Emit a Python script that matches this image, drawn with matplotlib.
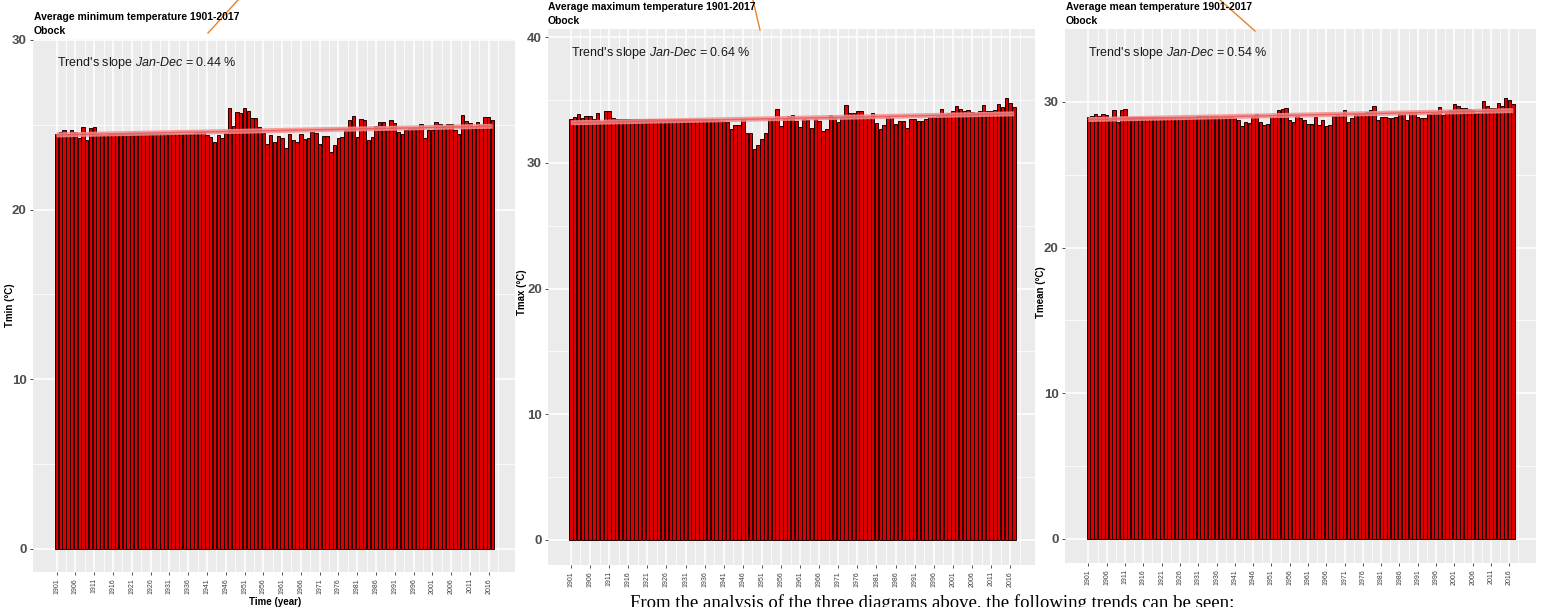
import numpy as np
import matplotlib
matplotlib.use("Agg")
import matplotlib.pyplot as plt
from matplotlib.lines import Line2D

plt.rcParams['font.family'] = ['Liberation Sans', 'DejaVu Sans']
plt.rcParams['mathtext.fontset'] = 'custom'
plt.rcParams['mathtext.it'] = 'Liberation Sans:italic'
plt.rcParams['mathtext.rm'] = 'Liberation Sans'

years = list(range(1901, 2018))
tick_years = list(range(1901, 2017, 5))

tmin = ([24.47, 24.55, 24.67, 24.43, 24.67, 24.59, 24.24, 24.87, 24.08, 24.79,
         24.87, 24.39, 24.39, 24.39]
        + [24.47] * 23
        + [24.55, 24.55, 24.55, 24.39, 24.28, 24.00, 24.39, 24.20, 24.51, 25.97,
           24.91, 25.73, 25.66, 25.97, 25.81, 25.42, 25.42, 24.87, 24.51, 23.85,
           24.39, 24.00, 24.32, 24.24, 23.65, 24.47, 24.08, 24.00, 24.47, 24.16,
           24.20, 24.59, 24.51, 23.85, 24.32, 24.32, 23.37, 23.81, 24.24, 24.28,
           24.67, 25.26, 25.50, 24.28, 25.34, 25.26, 24.12, 24.28, 24.91, 25.18,
           25.18, 24.67, 25.26, 25.10, 24.55, 24.47, 24.67, 24.79, 24.79, 24.79,
           25.02, 24.24, 24.71, 24.71, 25.18, 25.06, 24.91, 25.02, 25.02, 24.71,
           24.43, 25.58, 25.22, 25.10, 24.91, 25.18, 24.99, 25.46, 25.46, 25.26])

tmax = ([33.46, 33.62, 33.88, 33.56, 33.72, 33.72, 33.51, 33.93, 33.25, 34.09,
         34.15, 33.56, 33.51, 33.51]
        + [33.46] * 25
        + [33.35, 33.35,
           33.25, 32.72, 33.03, 32.98, 33.40, 32.40, 32.35, 31.07, 31.39, 31.92,
           32.35, 33.46, 33.51, 34.31, 32.93, 33.46, 33.72, 33.78, 33.30,
           32.82, 33.46, 33.40, 32.77, 33.51, 33.35, 32.56, 32.66, 33.83, 33.56,
           33.25, 33.56, 34.57, 33.99, 33.99, 34.15, 34.09, 33.56, 33.56, 33.99,
           33.19, 32.72, 33.03, 33.62, 33.56, 33.09, 33.35, 33.35, 32.77, 33.51,
           33.51, 33.35, 33.35, 33.51, 33.67, 33.67, 33.72, 34.31, 33.88, 33.99,
           34.09, 34.52, 34.31, 34.15, 34.20, 34.04, 33.99, 34.09, 34.57, 34.15,
           34.15, 34.20, 34.68, 34.46, 35.15, 34.73, 34.46])

tmean = ([28.96, 29.06, 29.19, 29.06, 29.19, 29.10, 28.78, 29.42, 28.64, 29.42,
          29.51, 28.96, 28.96]
         + [28.96] * 17 + [29.01] * 6 + [28.96] * 4
         + [28.87, 28.78, 28.37, 28.64, 28.55, 28.96, 29.19, 28.64, 28.41, 28.51,
            28.96, 28.96, 29.42, 29.51, 29.60, 28.73, 28.64, 29.06, 28.87, 28.78,
            28.51,
            28.51, 28.96, 28.41, 28.78, 28.37, 28.41, 29.06, 29.10, 29.01, 29.42,
            28.64, 28.92, 29.15, 29.15, 29.15, 29.28, 29.42, 29.74, 28.73, 28.96,
            28.96, 28.87, 28.87, 28.96, 29.19, 29.19, 28.73, 29.33, 29.28, 28.96,
            28.92, 28.87, 29.15, 29.24, 29.24, 29.65, 29.10, 29.24, 29.42, 29.83,
            29.70, 29.56, 29.60, 29.51, 29.47, 29.24, 29.24, 30.06, 29.70, 29.60,
            29.60, 29.92, 29.74, 30.29, 30.11, 29.83])

titles = ["Average minimum temperature 1901-2017",
          "Average maximum temperature 1901-2017",
          "Average mean temperature 1901-2017"]
station = "Obock"
ylabels = ["Tmin (°C)", "Tmax (°C)", "Tmean (°C)"]
slopes = ["0.44", "0.64", "0.54"]
series = [tmin, tmax, tmean]

W, H = 1541, 607
def fx(p): return p / W
def fy(p): return 1 - p / H

fig = plt.figure(figsize=(W / 100, H / 100), dpi=100)
fig.patch.set_facecolor('white')

# layout (pixels): left, right, top, bottom
rects = [(33, 515, 39, 572), (548, 1035, 29, 565), (1065, 1536, 29, 563)]
ylims = [(-1.36, 30.05), (-1.99, 40.64), (-1.65, 35.0)]
xlims = [(1894.7, 2023.0), (1895.0, 2022.5), (1894.6, 2023.3)]
yticks = [[0, 10, 20, 30], [0, 10, 20, 30, 40], [0, 10, 20, 30]]
text_y = [28.64, 38.73, 33.36]
title_y = [(17, 31), (7, 21), (7, 21)]
title_x = [34, 548, 1066]
ylab_pos = [(10, 305), (522, 292), (1041, 292)]

for k in range(3):
    l, r, t, b = rects[k]
    ax = fig.add_axes([fx(l), fy(b), (r - l) / W, (b - t) / H])
    ax.set_facecolor('#EBEBEB')
    for s in ax.spines.values():
        s.set_visible(False)
    ax.set_axisbelow(True)
    vals = np.array(series[k])
    yrs = np.array(years)
    ax.bar(yrs, vals, width=0.9, color='#dc0000', edgecolor='#200000',
           linewidth=0.7, zorder=2)
    coef = np.polyfit(yrs, vals, 1)
    fit = np.polyval(coef, yrs)
    ax.plot(yrs, fit, color='#f39090', lw=3.6, alpha=0.85, zorder=3,
            solid_capstyle='butt')
    ax.plot(yrs, fit, color='#ea5a5a', lw=1.0, alpha=0.9, zorder=3)
    ax.set_xlim(*xlims[k])
    ax.set_ylim(*ylims[k])
    ax.set_xticks(tick_years)
    ax.set_xticklabels([str(y) for y in tick_years], rotation=90,
                       fontsize=5, color='#3d3d3d')
    ax.set_xticks([y + 2.5 for y in tick_years], minor=True)
    yt = yticks[k]
    ax.set_yticks(yt)
    ax.set_yticklabels([str(v) for v in yt], fontsize=9.5, fontweight='bold',
                       color='#4d4d4d')
    ax.set_yticks([v + 5 for v in yt if v + 5 < ylims[k][1]], minor=True)
    ax.grid(which='major', color='white', lw=1.1)
    ax.grid(which='minor', color='white', lw=0.55)
    ax.tick_params(which='major', length=2.5, width=0.6, color='#333333', pad=2)
    ax.tick_params(which='minor', length=0)
    ax.text(1901, text_y[k],
            "Trend's slope $\\mathit{Jan}$-$\\mathit{Dec}$ = " + slopes[k] + " %",
            fontsize=9, color='#1a1a1a', ha='left', va='center', zorder=4)
    fig.text(fx(title_x[k]), fy(title_y[k][0]), titles[k], fontsize=7.5,
             fontweight='bold', va='center', ha='left')
    fig.text(fx(title_x[k]), fy(title_y[k][1]), station, fontsize=7.5,
             fontweight='bold', va='center', ha='left')
    fig.text(fx(ylab_pos[k][0]), fy(ylab_pos[k][1]), ylabels[k], rotation=90,
             fontsize=7, fontweight='bold', ha='center', va='center')

fig.text(fx(275), fy(602), "Time (year)", fontsize=7, fontweight='bold',
         ha='center', va='center')

fig.text(fx(630), fy(608),
         "From the analysis of the three diagrams above, the following trends can be seen:",
         family=['Liberation Serif', 'DejaVu Serif'], fontsize=13.5,
         ha='left', va='baseline')

# orange annotation strokes across the titles
for (x0, y0, x1, y1) in [(208, 33, 238, 0), (753, 0, 760, 30), (1220, 0, 1255, 31)]:
    fig.add_artist(Line2D([fx(x0), fx(x1)], [fy(y0), fy(y1)],
                          color='#e8822a', lw=1.0))

fig.savefig("out.png", dpi=100, facecolor='white')
